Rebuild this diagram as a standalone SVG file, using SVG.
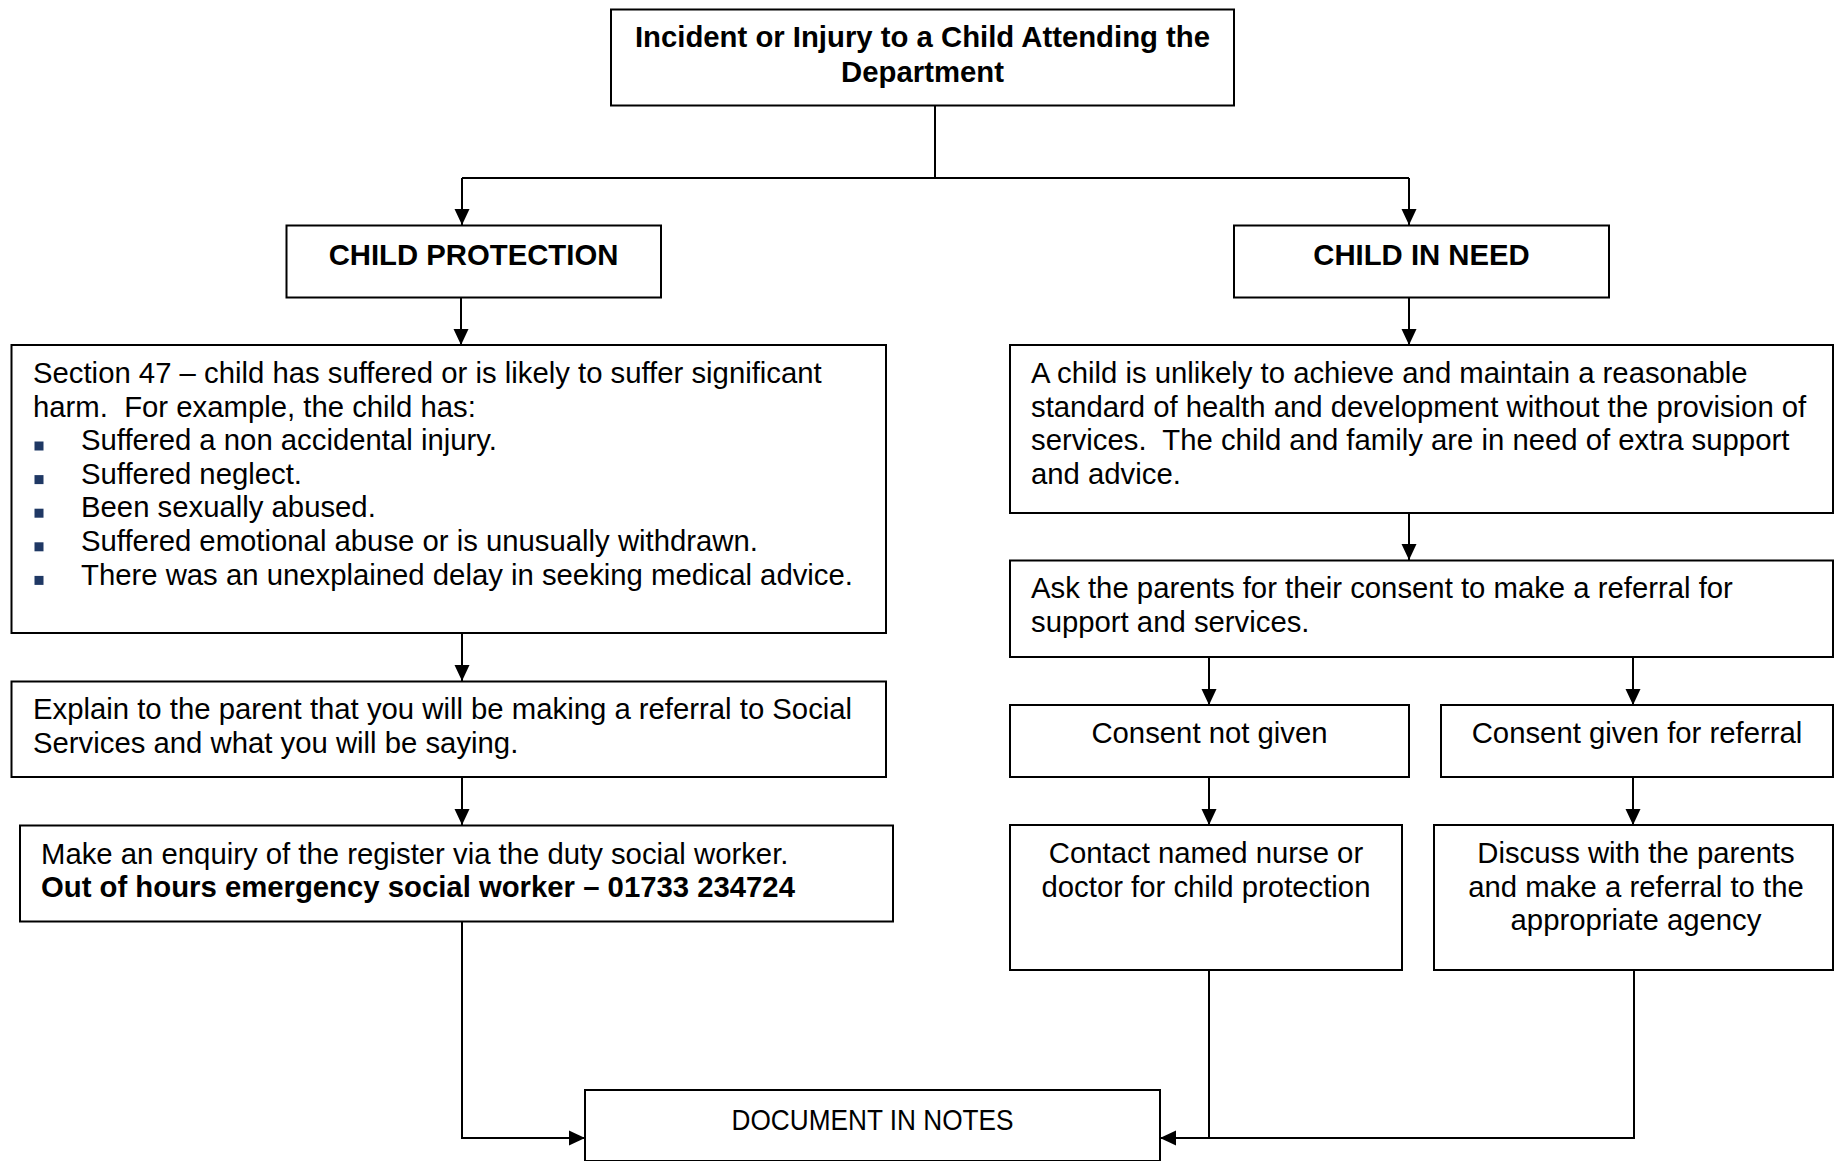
<svg xmlns="http://www.w3.org/2000/svg" width="1835" height="1161" viewBox="0 0 1835 1161">
  <defs>
    <style>
      .box { fill: #ffffff; stroke: #000000; stroke-width: 2; }
      .wire { fill: none; stroke: #000000; stroke-width: 2; }
      text { font-family: "Liberation Sans", Arial, sans-serif; font-size: 29.3px; fill: #000000; }
      .b { font-weight: bold; }
      .c { text-anchor: middle; }
      .bullet { fill: #1f3864; }
    </style>
    <marker id="arrow" markerUnits="userSpaceOnUse" markerWidth="16" markerHeight="16" viewBox="0 0 16 16" refX="16" refY="8" orient="auto">
      <path d="M0,0.5 L16,8 L0,15.5 Z" fill="#000000"/>
    </marker>
  </defs>

  <rect width="1835" height="1161" fill="#ffffff"/>

  <!-- connectors -->
  <g id="connectors">
    <path class="wire" d="M935,106 V178"/>
    <path class="wire" d="M462,178 H1409"/>
    <path class="wire" d="M462,178 V225" marker-end="url(#arrow)"/>
    <path class="wire" d="M1409,178 V225" marker-end="url(#arrow)"/>
    <path class="wire" d="M461,298 V345" marker-end="url(#arrow)"/>
    <path class="wire" d="M1409,298 V345" marker-end="url(#arrow)"/>
    <path class="wire" d="M462,633 V681" marker-end="url(#arrow)"/>
    <path class="wire" d="M462,777 V825" marker-end="url(#arrow)"/>
    <path class="wire" d="M462,922 V1138 H585" marker-end="url(#arrow)"/>
    <path class="wire" d="M1409,513 V560" marker-end="url(#arrow)"/>
    <path class="wire" d="M1209,657 V705" marker-end="url(#arrow)"/>
    <path class="wire" d="M1633,657 V705" marker-end="url(#arrow)"/>
    <path class="wire" d="M1209,777 V825" marker-end="url(#arrow)"/>
    <path class="wire" d="M1633,777 V825" marker-end="url(#arrow)"/>
    <path class="wire" d="M1209,970 V1138"/>
    <path class="wire" d="M1634,970 V1138 H1160" marker-end="url(#arrow)"/>
  </g>

  <!-- start -->
  <g id="incident">
    <rect class="box" x="611" y="9.5" width="623" height="96"/>
    <text class="b c" x="922.5" y="47">Incident or Injury to a Child Attending the</text>
    <text class="b c" x="922.5" y="81.5">Department</text>
  </g>

  <!-- left branch -->
  <g id="child-protection">
    <rect class="box" x="286.5" y="225.5" width="374.5" height="72"/>
    <text class="b c" x="473.5" y="265">CHILD PROTECTION</text>
  </g>

  <g id="section-47">
    <rect class="box" x="11.5" y="345" width="874.5" height="288"/>
    <text x="33" y="383">Section 47 – child has suffered or is likely to suffer significant</text>
    <text x="33" y="416.6">harm.&#160; For example, the child has:</text>
    <rect class="bullet" x="34.5" y="441.5" width="9" height="9"/>
    <text x="81" y="450.2">Suffered a non accidental injury.</text>
    <rect class="bullet" x="34.5" y="475.1" width="9" height="9"/>
    <text x="81" y="483.8">Suffered neglect.</text>
    <rect class="bullet" x="34.5" y="508.7" width="9" height="9"/>
    <text x="81" y="517.4">Been sexually abused.</text>
    <rect class="bullet" x="34.5" y="542.3" width="9" height="9"/>
    <text x="81" y="551">Suffered emotional abuse or is unusually withdrawn.</text>
    <rect class="bullet" x="34.5" y="575.9" width="9" height="9"/>
    <text x="81" y="584.6">There was an unexplained delay in seeking medical advice.</text>
  </g>

  <g id="explain">
    <rect class="box" x="11.5" y="681.5" width="874.5" height="95.5"/>
    <text x="33" y="719">Explain to the parent that you will be making a referral to Social</text>
    <text x="33" y="752.6">Services and what you will be saying.</text>
  </g>

  <g id="enquiry">
    <rect class="box" x="20" y="825.5" width="873" height="96"/>
    <text x="41" y="863.5">Make an enquiry of the register via the duty social worker.</text>
    <text class="b" x="41" y="897">Out of hours emergency social worker – 01733 234724</text>
  </g>

  <!-- right branch -->
  <g id="child-in-need">
    <rect class="box" x="1234" y="225.5" width="375" height="72"/>
    <text class="b c" x="1421.5" y="265">CHILD IN NEED</text>
  </g>

  <g id="need-definition">
    <rect class="box" x="1010" y="345" width="823" height="168"/>
    <text x="1031" y="383">A child is unlikely to achieve and maintain a reasonable</text>
    <text x="1031" y="416.6">standard of health and development without the provision of</text>
    <text x="1031" y="450.2">services.&#160; The child and family are in need of extra support</text>
    <text x="1031" y="483.8">and advice.</text>
  </g>

  <g id="ask-consent">
    <rect class="box" x="1010" y="560.5" width="823" height="96.5"/>
    <text x="1031" y="598">Ask the parents for their consent to make a referral for</text>
    <text x="1031" y="631.6">support and services.</text>
  </g>

  <g id="consent-not-given">
    <rect class="box" x="1010" y="705" width="399" height="72"/>
    <text class="c" x="1209.5" y="743">Consent not given</text>
  </g>

  <g id="consent-given">
    <rect class="box" x="1441" y="705" width="392" height="72"/>
    <text class="c" x="1637" y="743">Consent given for referral</text>
  </g>

  <g id="contact-named">
    <rect class="box" x="1010" y="825" width="392" height="145"/>
    <text class="c" x="1206" y="863">Contact named nurse or</text>
    <text class="c" x="1206" y="896.6">doctor for child protection</text>
  </g>

  <g id="discuss-referral">
    <rect class="box" x="1434" y="825" width="399" height="145"/>
    <text class="c" x="1636" y="863">Discuss with the parents</text>
    <text class="c" x="1636" y="896.6">and make a referral to the</text>
    <text class="c" x="1636" y="930.2">appropriate agency</text>
  </g>

  <!-- end -->
  <g id="document-notes">
    <rect class="box" x="585" y="1090" width="575" height="71"/>
    <text class="c" x="872.5" y="1130" textLength="282" lengthAdjust="spacingAndGlyphs">DOCUMENT IN NOTES</text>
  </g>
</svg>
